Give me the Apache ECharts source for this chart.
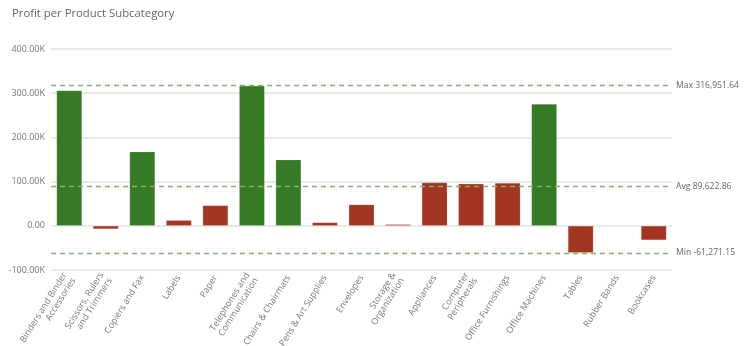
<!DOCTYPE html>
<html>
<head>
<meta charset="utf-8">
<script src="https://cdn.jsdelivr.net/npm/echarts@6/dist/echarts.min.js"></script>
<style>
  html, body { margin: 0; padding: 0; background: #fff; }
  #chart { width: 750px; height: 346px; }
</style>
</head>
<body>
<div id="chart"></div>
<script>
// Product subcategories in display order
const categories = [
  'Binders and Binder\nAccessories', 'Scissors, Rulers\nand Trimmers', 'Copiers and Fax',
  'Labels', 'Paper', 'Telephones and\nCommunication', 'Chairs & Chairmats',
  'Pens & Art Supplies', 'Envelopes', 'Storage &\nOrganization', 'Appliances',
  'Computer\nPeripherals', 'Office Furnishings', 'Office Machines', 'Tables',
  'Rubber Bands', 'Bookcases'
];

// Profit per subcategory
const profit = [
  306000, -7400, 167900, 12700, 46200, 316951.64, 149800, 7600, 48100, 3500,
  97800, 95000, 97200, 275500, -61271.15, 408.13, -32400
];

// Subcategories highlighted as top performers
const topPerformers = [
  'Binders and Binder\nAccessories', 'Copiers and Fax', 'Telephones and\nCommunication',
  'Chairs & Chairmats', 'Office Machines'
];

// Y axis range and step
const yMin = -100000, yMax = 400000, yStep = 100000;

const GREEN = '#377a25';
const RED = '#a33523';

function fmtAxis(v) {
  if (v === 0) return '0.00';
  return (v / 1000).toFixed(2) + 'K';
}
function fmtNum(v) {
  return v.toLocaleString('en-US', { minimumFractionDigits: 2, maximumFractionDigits: 2 });
}

const chart = echarts.init(document.getElementById('chart'));
chart.setOption({
  animation: false,
  title: {
    text: 'Profit per Product Subcategory',
    left: 7, top: 3,
    textStyle: { fontFamily: 'Open Sans', fontSize: 11.3, fontWeight: 'normal', color: '#666' }
  },
  grid: { left: 51, right: 78, top: 49, bottom: 76, containLabel: false, outerBoundsMode: 'none' },
  xAxis: {
    type: 'category',
    data: categories,
    axisLine: { show: false },
    axisTick: { show: false },
    axisLabel: {
      interval: 0, rotate: 58, margin: 6,
      fontFamily: 'Open Sans', fontSize: 9, color: '#777', lineHeight: 10
    }
  },
  yAxis: {
    type: 'value',
    min: yMin, max: yMax, interval: yStep,
    axisLine: { show: false },
    axisTick: { show: false },
    axisLabel: {
      formatter: fmtAxis, margin: 6,
      fontFamily: 'Open Sans', fontSize: 9, color: '#777'
    },
    splitLine: { lineStyle: { color: '#e2e2e2', width: 1.5 } }
  },
  series: [{
    type: 'bar',
    barWidth: '70%',
    data: profit.map((v, i) => ({
      value: v,
      itemStyle: { color: topPerformers.includes(categories[i]) ? GREEN : RED }
    })),
    itemStyle: { borderColor: 'rgba(255,255,255,0.3)', borderWidth: 0.6 },
    markLine: {
      symbol: 'none',
      silent: true,
      lineStyle: { color: '#7fb56c', type: [5, 4], width: 1.3 },
      label: {
        position: 'end', distance: 4,
        fontFamily: 'Open Sans', fontSize: 8.6, color: '#666'
      },
      data: [
        { type: 'max', name: 'Max', label: { formatter: p => 'Max ' + fmtNum(p.value) } },
        { type: 'average', name: 'Avg', label: { formatter: p => 'Avg ' + fmtNum(p.value) } },
        { type: 'min', name: 'Min', label: { formatter: p => 'Min ' + fmtNum(p.value) } }
      ]
    }
  }]
});
</script>
</body>
</html>
